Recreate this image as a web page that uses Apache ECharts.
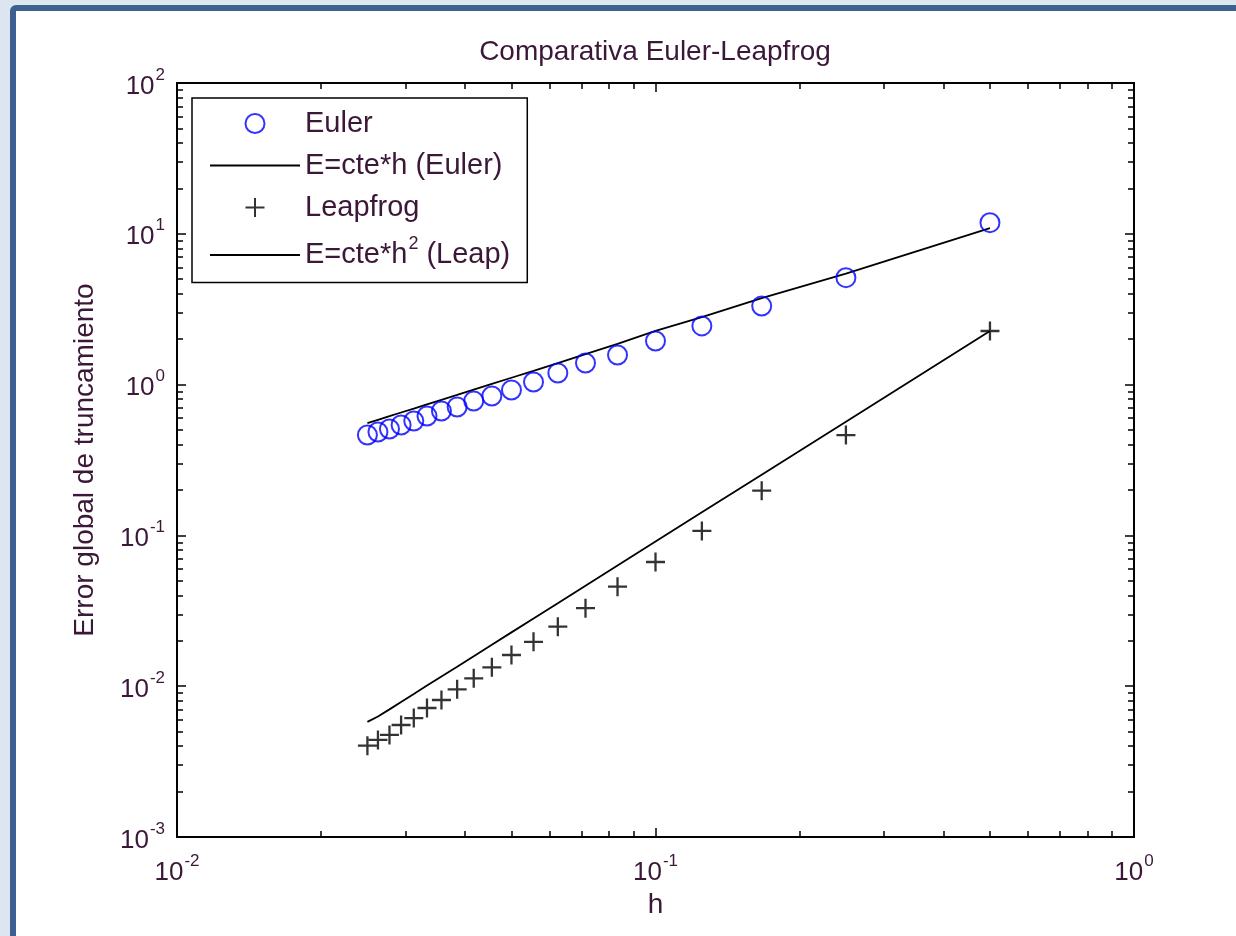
<!DOCTYPE html>
<html>
<head>
<meta charset="utf-8">
<title>Comparativa Euler-Leapfrog</title>
<script src="https://cdn.jsdelivr.net/npm/echarts@6/dist/echarts.min.js"></script>
<style>
  html, body { margin: 0; padding: 0; width: 1236px; height: 936px; overflow: hidden; background: #dde6f0; }
  #frame { position: absolute; left: 10px; top: 5px; width: 1300px; height: 1000px;
           border: 6px solid #3c6190; border-radius: 6px; background: #fff; }
  #main { position: absolute; left: 0; top: 0; width: 1236px; height: 936px; z-index: 2; }
</style>
</head>
<body>
<div id="frame"></div>
<div id="main"></div>
<script>
// paso h = 1/n, n = 2, 4, ..., 40
const hValues = [0.5, 0.25, 0.1667, 0.125, 0.1, 0.0833, 0.0714, 0.0625, 0.0556, 0.05,
  0.0455, 0.0417, 0.0385, 0.0357, 0.0333, 0.03125, 0.0294, 0.0278, 0.0263, 0.025]
// error global
const eulerErr = [11.85, 5.12, 3.32, 2.45, 1.946, 1.572, 1.39, 1.194, 1.04, 0.921,
  0.84, 0.778, 0.71, 0.668, 0.619, 0.574, 0.54, 0.508, 0.485, 0.463]
const eulerFit = [10.9, 5.45, 3.75, 2.8, 2.27, 1.86, 1.59, 1.39, 1.235, 1.11,
  1.01, 0.925, 0.854, 0.793, 0.74, 0.694, 0.653, 0.617, 0.584, 0.555]
const leapErr = [2.267, 0.463, 0.198, 0.107, 0.0666, 0.0457, 0.0329, 0.0248, 0.0197, 0.0161,
  0.01335, 0.01128, 0.00954, 0.0081, 0.00717, 0.00615, 0.00553, 0.00475, 0.0044, 0.00403]
const leapFit = [2.27, 0.568, 0.2528, 0.1422, 0.091, 0.0632, 0.0464, 0.0355, 0.0281, 0.02275,
  0.0188, 0.0158, 0.01346, 0.0116, 0.0101, 0.00889, 0.00787, 0.00702, 0.0063, 0.0058]
const seriesNames = ['Euler', 'E=cte*h (Euler)', 'Leapfrog', 'E=cte*h^2 (Leap)']
// marcas menores del eje log (2..9 de cada decada)
const xMinorTicks = [0.02, 0.03, 0.04, 0.05, 0.06, 0.07, 0.08, 0.09,
  0.2, 0.3, 0.4, 0.5, 0.6, 0.7, 0.8, 0.9]
const yMinorTicks = []
;[0.001, 0.01, 0.1, 1, 10].forEach((d) => {
  for (let k = 2; k <= 9; k++) yMinorTicks.push(+(d * k).toPrecision(3))
})

const fontFam = '"Liberation Sans", Arial, sans-serif'
const txtColor = '#3c1838'
const plusPath = 'path://M0,10L20,10M10,0L10,20'

// 10 con exponente como superindice
const expRich = {
  b: { fontSize: 26, lineHeight: 40, fontFamily: fontFam, color: txtColor },
  e: { fontSize: 17, lineHeight: 17, padding: [0, 0, 0, 1], fontFamily: fontFam, color: txtColor, verticalAlign: 'top' }
}
const expLabel = (v) => '{b|10}{e|' + Math.round(Math.log10(v)) + '}'

const tickStyle = { color: '#000', width: 1.5 }

// eje log auxiliar: solo marcas (mayores o menores)
function tickAxis(pos, min, max, minor) {
  return {
    type: 'log', logBase: 10, min: min, max: max, position: pos,
    axisLine: { show: false },
    axisTick: Object.assign({ inside: true, length: minor ? 6 : 9, lineStyle: tickStyle },
      minor ? { customValues: minor } : {}),
    axisLabel: { show: false },
    splitLine: { show: false }
  }
}

const chart = echarts.init(document.getElementById('main'))
const option = {
  animation: false,
  backgroundColor: 'transparent',
  title: {
    text: 'Comparativa Euler-Leapfrog',
    left: 655, top: 38, padding: 0, textAlign: 'center',
    textStyle: { fontSize: 28, fontWeight: 'normal', fontFamily: fontFam, color: txtColor, lineHeight: 28 }
  },
  grid: {
    left: 177, top: 83, width: 957, height: 754,
    show: true, borderColor: '#000', borderWidth: 2, backgroundColor: '#fff',
    outerBoundsMode: 'none'
  },
  legend: {
    // los iconos de linea sin el punto central
    data: seriesNames.map((n, i) => (i % 2 === 1 ? { name: n, itemStyle: { opacity: 0 } } : { name: n })),
    orient: 'vertical', left: 192, top: 98,
    padding: [11, 17, 13, 17],
    itemWidth: 90, itemHeight: 19, itemGap: 13,
    backgroundColor: '#fff', borderColor: '#000', borderWidth: 1.5, borderRadius: 0,
    selectedMode: false,
    formatter: (name) => '{n|' + name.replace('^2', '}{s|2}{n|') + '}',
    textStyle: {
      rich: {
        n: { fontSize: 29, lineHeight: 40, fontFamily: fontFam, color: txtColor },
        s: { fontSize: 18, lineHeight: 18, fontFamily: fontFam, color: txtColor, verticalAlign: 'top', padding: [0, 0, 0, 1] }
      }
    }
  },
  xAxis: [
    {
      type: 'log', logBase: 10, min: 0.01, max: 1, position: 'bottom',
      axisLine: { show: false },
      axisTick: { inside: true, length: 9, lineStyle: tickStyle },
      axisLabel: { formatter: expLabel, margin: 16, rich: expRich },
      splitLine: { show: false },
      name: 'h', nameLocation: 'middle', nameGap: 54,
      nameTextStyle: { fontSize: 28, fontFamily: fontFam, color: txtColor }
    },
    tickAxis('bottom', 0.01, 1, xMinorTicks),
    tickAxis('top', 0.01, 1, null),
    tickAxis('top', 0.01, 1, xMinorTicks)
  ],
  yAxis: [
    {
      type: 'log', logBase: 10, min: 0.001, max: 100, position: 'left',
      axisLine: { show: false },
      axisTick: { inside: true, length: 9, lineStyle: tickStyle },
      axisLabel: { formatter: expLabel, margin: 12, padding: [7, 0, 0, 0], rich: expRich },
      splitLine: { show: false },
      name: 'Error global de truncamiento', nameLocation: 'middle', nameGap: 78,
      nameTextStyle: { fontSize: 28, fontFamily: fontFam, color: txtColor }
    },
    tickAxis('left', 0.001, 100, yMinorTicks),
    tickAxis('right', 0.001, 100, null),
    tickAxis('right', 0.001, 100, yMinorTicks)
  ],
  series: [
    {
      name: seriesNames[0], type: 'scatter',
      data: hValues.map((h, i) => [h, eulerErr[i]]),
      symbol: 'circle', symbolSize: 19,
      itemStyle: { color: 'transparent', borderColor: '#0000ff', borderWidth: 2 },
      z: 3
    },
    {
      name: seriesNames[1], type: 'line',
      data: hValues.map((h, i) => [h, eulerFit[i]]),
      symbol: 'none', itemStyle: { color: '#000' },
      lineStyle: { color: '#000', width: 1.8 }
    },
    {
      name: seriesNames[2], type: 'scatter',
      data: hValues.map((h, i) => [h, leapErr[i]]),
      symbol: plusPath, symbolSize: 19,
      itemStyle: { color: 'transparent', borderColor: '#000', borderWidth: 2.3 },
      z: 3
    },
    {
      name: seriesNames[3], type: 'line',
      data: hValues.map((h, i) => [h, leapFit[i]]),
      symbol: 'none', itemStyle: { color: '#000' },
      lineStyle: { color: '#000', width: 1.8 }
    }
  ]
}
chart.setOption(option)
</script>
</body>
</html>
